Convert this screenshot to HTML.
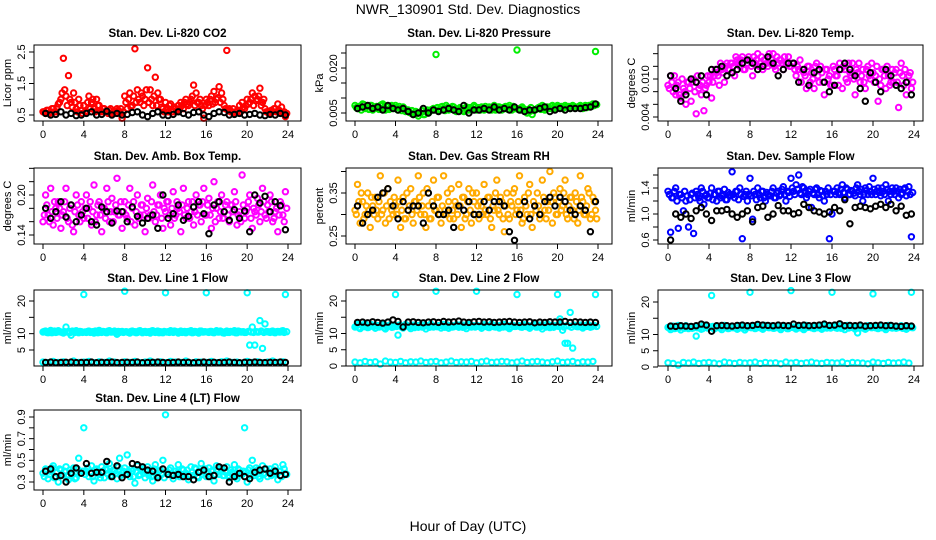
<!DOCTYPE html>
<html><head><meta charset="utf-8"><title>NWR_130901 Std. Dev. Diagnostics</title>
<style>
html,body{margin:0;padding:0;background:#fff;}
svg{display:block;font-family:"Liberation Sans",Arial,sans-serif;}
</style></head>
<body>
<svg id="chart" width="936" height="540" viewBox="0 0 936 540" xmlns="http://www.w3.org/2000/svg">
<rect x="0" y="0" width="936" height="540" fill="#fff"/>
<text x="468" y="14" text-anchor="middle" font-size="14">NWR_130901  Std. Dev. Diagnostics</text>
<text x="468" y="531" text-anchor="middle" font-size="14">Hour of Day (UTC)</text>
</svg>
<script>
// ---- data (colored series every 15 min, second colored series offset 7.5 min, black every 30 min) ----
const xTicks = [0,4,8,12,16,20,24];
const xTickLabels = ["0","4","8","12","16","20","24"];
const titles = ["Stan. Dev. Li-820 CO2","Stan. Dev. Li-820 Pressure","Stan. Dev. Li-820 Temp.","Stan. Dev. Amb. Box Temp.","Stan. Dev. Gas Stream RH","Stan. Dev. Sample Flow","Stan. Dev. Line 1 Flow","Stan. Dev. Line 2 Flow","Stan. Dev. Line 3 Flow","Stan. Dev. Line 4 (LT) Flow"];
const yTitles = ["Licor ppm","kPa","degrees C","degrees C","percent","ml/min","ml/min","ml/min","ml/min","ml/min"];

const co2Red = [0.6,0.55,0.65,0.6,0.7,0.6,0.85,1.0, 2.3,1.1,1.75,0.9,1.2,0.7,1.0,0.65, 0.8,0.6,1.1,0.9,0.7,1.0,0.8,0.6, 0.7,0.6,0.65,0.55,0.6,0.7,0.6,0.4, 1.1,0.7,1.2,0.8,2.6,1.3,0.9,1.1, 1.0,2.0,1.3,0.8,1.7,1.2,1.0,0.7, 0.9,0.6,0.85,0.6,0.7,0.8,0.9,0.7, 1.0,0.8,1.0,1.45,1.2,0.9,0.8,0.4, 1.0,0.8,1.1,1.25,1.0,1.4,1.2,0.8, 2.55,0.7,0.6,0.55,0.6,0.8,0.9,0.7, 1.0,0.9,1.2,1.1,1.0,1.35,0.9,0.7, 0.6,0.55,0.6,0.7,0.85,0.6,0.55,0.45];
const co2Red2 = [0.6,0.65,0.55,0.7,0.6,0.75,0.9,1.2, 1.3,0.8,1.0,0.75,0.9,0.6,0.8,0.55, 0.6,0.9,0.7,1.0,0.6,0.8,0.65,0.7, 0.6,0.55,0.7,0.6,0.55,0.65,0.7,0.6, 0.9,1.0,0.75,1.1,0.9,1.0,1.2,0.8, 1.3,0.9,1.0,1.1,0.8,1.0,0.75,0.6, 0.7,0.8,0.6,0.75,0.65,0.7,0.8,0.9, 0.85,0.9,1.1,0.8,0.9,1.0,0.7,0.8, 0.9,1.0,0.85,0.9,1.05,0.9,1.0,0.7, 0.65,0.6,0.7,0.6,0.65,0.6,0.75,0.8, 0.85,1.0,0.8,0.95,1.1,0.8,1.0,0.6, 0.55,0.65,0.7,0.6,0.65,0.75,0.6,0.55];
const co2Black = [0.55,0.5,0.52,0.6,0.5,0.55,0.48,0.5,0.55,0.6,0.5,0.52,0.62,0.5,0.55,0.5,0.52,0.58,0.6,0.5,0.45,0.55,0.6,0.5,0.48,0.52,0.6,0.55,0.5,0.58,0.6,0.5,0.45,0.55,0.6,0.58,0.5,0.52,0.55,0.5,0.52,0.55,0.5,0.48,0.52,0.5,0.55,0.5];

const presGreen = [.0075,.0065,.007,.008,.0065,.007,.0075,.006, .007,.0065,.0075,.008,.006,.007,.0065,.007, .0075,.006,.0065,.007,.0055,.006,.005,.0045, .0055,.004,.005,.0045,.0055,.005,.006,.0065, .0245,.006,.007,.0065,.0075,.006,.0065,.007, .0055,.006,.0065,.0055,.007,.006,.0065,.0075, .006,.0065,.007,.006,.0065,.007,.006,.0075, .0065,.007,.006,.0065,.007,.0075,.006,.0065, .026,.0065,.007,.006,.005,.0055,.0045,.006, .0065,.007,.0075,.006,.007,.0065,.0075,.007, .0075,.007,.0065,.0075,.007,.0065,.0075,.007, .007,.0075,.0065,.0075,.007,.0075,.008,.0255];
const presGreen2 = [.0068,.0072,.006,.0078,.007,.0062,.0075,.0068, .0072,.0062,.0078,.0068,.0072,.0062,.0075,.0065, .0068,.0072,.0058,.0065,.006,.0052,.0058,.005, .0048,.0052,.0058,.0045,.006,.0055,.0062,.006, .0068,.0062,.0072,.0058,.0068,.0062,.0072,.0058, .0062,.0068,.0058,.0065,.006,.0068,.0062,.007, .0068,.006,.0065,.0072,.0062,.0068,.0065,.006, .007,.0062,.0068,.0072,.0062,.0068,.0072,.0065, .0062,.006,.0065,.0058,.0062,.0068,.0058,.0062, .0068,.0062,.007,.0065,.0068,.0072,.0065,.0068, .007,.0072,.0068,.007,.0072,.0068,.0072,.0068, .0072,.007,.0072,.0068,.0075,.0072,.0075,.0078];
const presBlack = [.0065,.007,.0075,.0065,.007,.006,.0075,.0065,.006,.0065,.0055,.0045,.005,.0065,.005,.006,.0055,.006,.0065,.006,.0055,.0075,.005,.006,.006,.0065,.006,.007,.006,.0065,.006,.007,.006,.0055,.006,.006,.0065,.007,.0055,.006,.0065,.006,.0065,.0065,.0065,.0068,.007,.008];

const tempMag = [.009,.0105,.008,.0075,.0095,.007,.0085,.006, .0095,.0065,.01,.0045,.0085,.0075,.005,.009, .0095,.007,.0105,.011,.009,.0115,.0095,.0125, .0115,.0125,.0105,.013,.012,.0135,.0115,.0125, .013,.0105,.0125,.014,.0125,.0115,.013,.012, .0125,.014,.0115,.0125,.013,.0115,.0125,.0135, .012,.0125,.0105,.0115,.0095,.011,.0085,.012, .011,.0085,.0125,.0095,.011,.0075,.0115,.0105, .009,.0115,.0105,.0125,.0085,.0115,.0095,.011, .0125,.0075,.011,.0095,.0115,.0085,.012,.01, .011,.0105,.0065,.009,.0115,.0085,.0105,.0095, .0095,.0115,.0055,.0125,.009,.0075,.0105,.0085];
const tempMag2 = [.0085,.0095,.0105,.009,.0075,.01,.008,.0095, .0085,.0095,.008,.0105,.009,.0095,.0085,.0105, .0105,.0095,.0115,.0105,.0125,.011,.012,.0115, .0125,.012,.0135,.0125,.013,.0115,.013,.0135, .012,.0135,.013,.012,.0135,.013,.0125,.014, .013,.012,.0135,.013,.0125,.0135,.0125,.012, .0125,.0115,.012,.013,.0115,.0105,.012,.0095, .01,.012,.0105,.012,.0095,.0115,.01,.009, .012,.0105,.009,.0115,.012,.01,.0125,.0105, .01,.0115,.0125,.0105,.0095,.0115,.0105,.0125, .0095,.012,.01,.0115,.0105,.012,.009,.0115, .011,.0095,.011,.0105,.0115,.0095,.011,.0095];
const tempBlack = [.0105,.0085,.0065,.0075,.01,.0095,.0105,.0075,.0115,.0115,.012,.0105,.011,.0115,.0125,.013,.0125,.0115,.012,.0135,.0125,.0105,.0115,.0125,.0125,.0095,.0115,.009,.011,.0115,.0095,.008,.009,.0115,.0125,.0115,.0105,.0085,.0065,.011,.0095,.008,.0115,.0105,.009,.0085,.0095,.0075];

const boxMag = [.16,.2,.17,.21,.155,.18,.19,.15, .175,.21,.16,.185,.145,.2,.17,.19, .165,.2,.18,.155,.215,.17,.19,.145, .18,.21,.16,.195,.175,.225,.17,.15, .19,.165,.21,.18,.155,.2,.17,.185, .145,.195,.17,.215,.16,.185,.2,.15, .175,.19,.155,.205,.17,.18,.145,.21, .165,.19,.175,.155,.2,.185,.16,.21, .17,.195,.15,.22,.18,.165,.2,.175, .19,.16,.185,.205,.155,.175,.23,.165, .18,.2,.15,.175,.195,.16,.21,.17, .185,.2,.16,.175,.145,.19,.17,.205];
const boxMag2 = [.17,.185,.16,.175,.19,.165,.18,.17, .19,.165,.18,.155,.175,.185,.16,.175, .18,.165,.19,.175,.16,.185,.17,.18, .165,.19,.175,.16,.185,.17,.19,.175, .17,.185,.16,.19,.175,.165,.185,.17, .18,.165,.19,.175,.17,.185,.165,.18, .19,.17,.18,.165,.19,.175,.185,.17, .18,.165,.19,.175,.17,.185,.19,.17, .185,.17,.18,.16,.19,.175,.165,.185, .17,.185,.175,.19,.17,.16,.185,.175, .19,.165,.18,.17,.185,.175,.19,.165, .175,.19,.165,.18,.17,.185,.16,.18];
const boxBlack = [.18,.165,.175,.19,.167,.185,.16,.17,.18,.16,.155,.182,.175,.158,.176,.175,.16,.182,.168,.158,.165,.17,.15,.2,.165,.172,.185,.162,.168,.182,.19,.172,.142,.185,.19,.175,.162,.178,.165,.176,.145,.2,.188,.198,.175,.19,.184,.148];

const rhOrange = [.31,.37,.28,.33,.3,.35,.27,.32, .34,.29,.39,.31,.28,.36,.33,.3, .32,.38,.27,.34,.29,.31,.36,.28, .33,.39,.3,.35,.27,.32,.29,.38, .31,.34,.28,.39,.3,.33,.36,.29, .32,.37,.27,.34,.3,.36,.28,.33, .35,.29,.32,.37,.3,.34,.27,.31, .38,.3,.33,.26,.35,.29,.32,.36, .31,.39,.28,.34,.3,.37,.27,.32, .35,.29,.38,.31,.33,.4,.28,.34, .3,.36,.32,.38,.29,.34,.31,.35, .28,.39,.33,.3,.36,.29,.34,.31];
const rhOrange2 = [.3,.33,.35,.29,.32,.31,.34,.3, .31,.33,.3,.35,.32,.29,.31,.34, .3,.33,.31,.29,.35,.32,.3,.33, .31,.34,.32,.3,.36,.29,.33,.31, .34,.3,.32,.31,.35,.29,.31,.33, .3,.32,.34,.29,.33,.31,.35,.3, .32,.33,.3,.31,.34,.29,.32,.35, .31,.34,.29,.32,.3,.33,.35,.3, .33,.31,.29,.32,.35,.3,.33,.31, .32,.3,.34,.29,.31,.33,.35,.3, .33,.31,.35,.3,.32,.34,.29,.33, .31,.34,.3,.32,.35,.3,.33,.29];
const rhBlack = [.32,.28,.3,.31,.34,.35,.36,.32,.29,.33,.31,.32,.32,.28,.35,.32,.3,.3,.31,.27,.32,.31,.33,.3,.3,.33,.31,.33,.33,.32,.26,.24,.3,.33,.29,.32,.3,.33,.34,.32,.34,.33,.31,.3,.32,.31,.26,.33];

const flowBlue = [1.35,0.72,1.25,1.4,0.78,1.3,1.05,1.2, 0.8,1.3,0.7,1.35,1.25,1.4,1.15,1.3, 1.25,1.4,1.3,1.2,1.35,1.28,1.38,1.22, 1.3,1.65,1.25,1.35,1.4,0.62,1.3,1.2, 1.55,0.92,1.3,1.4,1.25,1.35,1.2,1.3, 1.28,1.4,1.25,1.35,1.3,1.42,1.2,1.33, 1.55,1.35,1.45,1.6,1.3,1.4,1.25,1.35, 1.1,1.3,1.4,1.25,1.35,1.2,1.3,0.62, 1.0,1.35,1.4,1.3,1.45,1.25,1.38,1.3, 1.35,1.28,1.45,1.3,1.2,1.4,1.3,1.35, 1.55,1.3,1.4,1.28,1.35,1.45,1.2,1.3, 1.35,1.4,1.25,1.3,1.38,1.28,1.42,0.65];
const flowBlue2 = [1.3,1.25,1.35,1.2,1.3,1.25,1.35,1.28, 1.22,1.32,1.25,1.3,1.2,1.35,1.28,1.25, 1.32,1.22,1.3,1.35,1.25,1.3,1.22,1.33, 1.28,1.3,1.35,1.22,1.3,1.27,1.35,1.3, 1.28,1.35,1.22,1.3,1.35,1.25,1.33,1.28, 1.35,1.25,1.32,1.28,1.38,1.3,1.35,1.27, 1.4,1.3,1.38,1.32,1.42,1.35,1.3,1.38, 1.32,1.38,1.3,1.36,1.28,1.35,1.4,1.3, 1.35,1.3,1.32,1.38,1.33,1.4,1.3,1.36, 1.32,1.4,1.35,1.38,1.3,1.36,1.42,1.3, 1.38,1.35,1.33,1.4,1.3,1.38,1.35,1.4, 1.3,1.35,1.38,1.32,1.4,1.35,1.3,1.33];
const flowBlack = [0.6,1.0,0.95,1.0,0.93,1.05,1.1,1.0,0.9,1.05,1.05,1.07,1.0,0.95,1.0,1.05,0.88,1.1,1.12,0.95,1.0,1.13,1.05,1.05,1.0,1.02,1.15,1.1,1.05,1.03,1.0,1.03,1.1,1.05,1.22,0.85,1.1,1.12,1.1,1.08,1.12,1.15,1.1,1.15,1.05,1.12,0.98,1.0];

const line1High = [10.5,10.8,10.3,11,10.6,10.4,10.9,10.5, 10.2,12,10.7,9.5,10.5,10.9,10.3,10.6, 22,10.4,10.8,10.5,10.2,10.7,11,10.4, 10.6,10.3,10.9,10.5,10.8,9.8,10.4,10.7, 23,10.5,10.2,10.8,10.6,10.4,10.9,10.3, 10.7,10.5,10.2,10.9,10.4,10.8,10.6,10.3, 22.5,10.6,10.9,10.4,10.7,10.2,10.8,10.5, 10.3,10.7,10.9,10.4,10.6,10.2,10.8,10.5, 22.5,10.4,10.7,10.3,10.9,10.5,10.6,10.2, 10.8,10.4,10.6,10.9,10.3,10.7,10.5,10.4, 22.5,6.5,12,6.5,10.5,14,5.5,13, 10.6,10.4,10.8,10.3,10.7,10.5,10.9,22];
const line1High2 = [10.7,10.4,10.6,10.3,10.8,10.5,10.6,10.4, 10.6,10.5,10.3,10.8,10.4,10.6,10.7,10.4, 10.5,10.7,10.4,10.6,10.8,10.3,10.5,10.7, 10.4,10.8,10.5,10.6,10.3,10.7,10.6,10.4, 10.6,10.4,10.7,10.5,10.3,10.8,10.5,10.6, 10.4,10.6,10.8,10.5,10.7,10.3,10.4,10.7, 10.5,10.4,10.6,10.8,10.5,10.6,10.4,10.7, 10.6,10.5,10.3,10.7,10.4,10.8,10.5,10.6, 10.5,10.7,10.4,10.6,10.5,10.8,10.3,10.6, 10.4,10.7,10.5,10.3,10.8,10.5,10.6,10.4, 10.7,10.5,10.4,10.6,10.5,10.8,10.4,10.6, 10.5,10.7,10.4,10.6,10.5,10.8,10.4,10.6];
const line1Low = [1.3,1.1,1.5,1.2,1.4,1.0,1.6,1.2,1.3,1.5,1.1,1.4,1.2,1.6,1.3,1.0,1.4,1.2,1.5,1.1,1.3,1.6,1.2,1.4,1.1,1.5,1.3,1.2,1.6,1.0,1.4,1.3,1.2,1.5,1.1,1.4,1.6,1.2,1.3,1.0,1.5,1.2,1.4,1.1,1.3,1.6,1.2,1.4];
const line1Black = [1.2,1.3,1.1,1.2,1.25,1.3,1.15,1.2,1.2,1.3,1.1,1.25,1.2,1.3,1.15,1.2,1.25,1.2,1.3,1.1,1.2,1.25,1.3,1.2,1.15,1.2,1.3,1.2,1.25,1.1,1.2,1.3,1.2,1.25,1.15,1.2,1.3,1.2,1.1,1.25,1.2,1.3,1.2,1.15,1.25,1.2,1.3,1.2];

const line2High = [12,12.8,11.5,12.4,13,11.8,12.2,12.6, 11.6,12.5,12.1,12.9,11.4,12.3,12.7,12, 22,9.5,12.4,11.7,12.8,12.2,11.5,12.6, 12.3,11.9,12.7,12.1,11.4,12.5,12.9,12, 23,12.4,11.7,12.8,12.2,11.6,12.5,12.1, 12.7,11.9,12.3,12.6,11.5,12.8,12,12.4, 23,12.2,11.6,12.7,12.4,11.8,12.9,12.1, 12.5,11.7,12.3,12.8,12,11.5,12.6,12.2, 22,12.4,11.9,12.7,12.1,11.6,12.5,12.8, 12,12.6,11.4,12.3,12.9,11.8,12.2,12.5, 22,14.5,11,7,7,16.5,5.5,12.3, 12.1,12.6,11.7,12.4,12.8,11.9,12.3,22];
const line2High2 = [12.3,11.8,12.6,12.1,12.4,11.9,12.7,12.2, 12.4,12,12.6,11.8,12.3,12.5,11.9,12.4, 12.2,12.6,11.9,12.3,12.5,12,12.4,11.8, 12.5,12.2,12,12.6,12.3,11.9,12.4,12.2, 12.1,12.5,12.3,11.9,12.6,12.2,12,12.4, 12.3,12.6,11.9,12.2,12.5,12.1,12.4,12, 12.4,12.1,12.5,12.2,11.9,12.6,12.3,12, 12.2,12.5,12,12.4,12.3,11.9,12.5,12.2, 12.3,12,12.6,12.2,12.4,12.1,12.5,12, 12.4,12.2,12.6,12,12.3,12.5,11.9,12.3, 12.2,12.5,12,12.4,12.3,11.9,12.6,12.2, 12.3,12,12.5,12.2,12.4,12.1,12.5,12.2];
const line2Low = [1.2,1.0,1.4,1.1,1.3,0.6,1.5,1.2,1.1,1.4,1.0,1.3,1.2,1.5,1.1,1.3,1.4,1.0,1.2,1.5,1.1,1.3,1.2,1.4,1.0,1.3,1.5,1.1,1.2,1.4,1.3,1.0,1.2,1.5,1.1,1.3,1.4,1.2,1.0,1.3,1.5,1.1,1.2,1.4,1.0,1.3,1.2,1.4];
const line2Black = [13.4,13.5,13.3,13.6,13.4,13.2,13.5,14.2,13.7,12,13.5,13.6,13.4,13.3,13.5,13.6,13.4,13.7,13.5,13.6,13.8,13.5,13.4,13.6,13.7,13.5,13.6,13.4,13.5,13.6,13.7,13.5,13.4,13.5,13.6,13.3,13.5,13.4,13.6,13.5,13.5,13.7,13.4,13.6,13.5,13.4,13.5,13.4];

const line3High = [12.2,11.5,12.6,11.9,12.8,11.4,12.3,12.7, 11.8,12.4,12.1,9.5,12.5,11.6,12.9,12.2, 12.4,22,11.7,12.6,12.1,11.5,12.8,12.3, 11.9,12.5,12.2,11.6,12.7,12,11.4,12.6, 23,12.3,11.8,12.5,12.1,11.6,12.8,12.2, 12.6,11.9,12.4,12.1,11.5,12.7,12.2,11.8, 23.5,12.3,11.7,12.6,12,11.5,12.8,12.4, 12.1,11.8,12.5,12.2,11.6,12.7,12,12.4, 23,12.3,11.9,12.6,12.1,11.5,12.8,12.2, 12.4,11.7,10.5,12.5,12,11.6,12.7,12.3, 22.5,12.1,11.8,12.6,12.3,11.5,12.8,12.2, 12.5,11.9,12.3,12.7,12,11.6,12.4,23];
const line3High2 = [12,12.4,11.8,12.3,12.1,12.5,11.9,12.2, 12.3,11.9,12.4,12.1,12.2,11.8,12.4,12, 12.2,12.5,11.9,12.3,12,12.4,12.1,11.8, 12.4,12.1,12.3,11.9,12.2,12.5,12,12.3, 12.1,12.4,12,12.3,11.9,12.2,12.5,12.1, 12.3,11.9,12.4,12.2,12,12.3,11.8,12.4, 12.2,12,12.4,12.1,12.3,11.9,12.2,12.5, 12,12.3,12.1,12.4,11.9,12.2,12.3,12, 12.4,12.1,12.2,11.9,12.3,12.5,12,12.2, 12.1,12.4,12,12.3,12.2,11.9,12.4,12.1, 12.3,12,12.4,12.1,11.9,12.3,12.2,12, 12.4,12.1,12.2,11.9,12.3,12,12.2,12.1];
const line3Low = [1.3,1.1,0.6,1.4,1.2,1.5,1.1,1.3,1.4,1.2,1.0,1.5,1.3,1.1,1.4,1.2,1.3,1.5,1.1,1.4,1.2,1.3,1.0,1.5,1.2,1.4,1.1,1.3,1.5,1.2,1.1,1.4,1.3,1.2,1.5,1.1,1.4,1.3,1.2,1.0,1.5,1.3,1.1,1.4,1.2,1.3,1.5,1.2];
const line3Black = [12.6,12.5,12.7,12.6,12.5,12.7,13.2,12.9,11,12.7,12.8,12.7,12.6,12.8,12.9,12.7,12.8,13.1,12.9,12.8,12.7,12.9,12.8,12.7,13.2,12.8,12.9,12.7,12.8,12.9,13.2,12.8,12.9,13.3,12.7,12.8,12.7,12.9,12.6,12.7,12.8,12.9,12.7,12.8,12.6,12.5,12.7,12.6];

const line4Cyan = [.38,.42,.33,.4,.45,.35,.3,.41, .36,.44,.32,.39,.43,.34,.52,.38, .8,.4,.35,.45,.31,.42,.37,.44, .34,.41,.47,.36,.4,.33,.52,.38, .43,.55,.35,.4,.29,.45,.37,.42, .34,.44,.38,.31,.46,.36,.41,.5, .92,.37,.43,.33,.4,.46,.35,.41, .38,.32,.44,.36,.42,.34,.47,.39, .35,.43,.4,.31,.45,.37,.42,.36, .44,.34,.39,.46,.33,.41,.37,.8, .3,.43,.5,.36,.41,.33,.45,.38, .35,.42,.37,.44,.32,.4,.46,.38];
const line4Cyan2 = [.35,.4,.37,.43,.34,.39,.42,.36, .4,.35,.41,.37,.33,.42,.38,.4, .37,.43,.39,.35,.41,.38,.34,.4, .42,.37,.35,.41,.38,.44,.36,.4, .37,.4,.42,.35,.39,.36,.41,.38, .4,.36,.35,.42,.38,.4,.37,.34, .39,.41,.36,.4,.38,.35,.42,.37, .41,.36,.39,.43,.35,.4,.37,.42, .38,.35,.41,.37,.4,.43,.36,.39, .36,.41,.38,.35,.42,.37,.4,.39, .41,.36,.38,.43,.35,.4,.37,.42, .39,.36,.41,.38,.4,.35,.42,.37];
const line4Black = [.4,.42,.35,.36,.3,.38,.43,.38,.47,.38,.39,.39,.49,.35,.45,.34,.37,.47,.46,.44,.41,.4,.34,.42,.37,.36,.37,.35,.35,.32,.39,.41,.35,.36,.44,.43,.3,.35,.38,.35,.33,.39,.41,.42,.38,.4,.36,.37];

const yTickVals = [[0.5,1,1.5,2,2.5],[0.005,0.01,0.015,0.02,0.025],[0.004,0.006,0.008,0.01,0.012,0.014],[0.14,0.16,0.18,0.2,0.22,0.24],[0.25,0.3,0.35,0.4],[0.6,0.8,1.0,1.2,1.4,1.6],[5,10,15,20],[0,5,10,15,20],[0,5,10,15,20],[0.3,0.4,0.5,0.6,0.7,0.8,0.9]];
const yTickLabels = [["0.5","","1.5","","2.5"],["0.005","","","0.020",""],["0.004","","","0.010","",""],["0.14","","","0.20","",""],["0.25","","0.35",""],["0.6","","1.0","","1.4",""],["5","10","","20"],["0","5","10","","20"],["0","5","10","","20"],["0.3","","0.5","","0.7","","0.9"]];

// ---- layout (not data) ----
const colGeo = [{L:34,R:301,x0:43,x24:288},{L:346,R:612,x0:355,x24:598},{L:658,R:923,x0:668,x24:914}];
const rowGeo = [{T:45,B:121},{T:168,B:244},{T:290,B:366},{T:410,B:490}];
const yCal = [[0.5,115,2.5,52],[0.005,113,0.02,68],[0.004,117,0.01,79],[0.14,235,0.2,195],[0.25,236,0.35,193],[0.6,240,1.4,188],[5,350,20,301],[0,366,20,301],[0,367,20,302],[0.3,482,0.9,417]];

const series = [
 [[co2Red,"#ff0000",0.25,0],[co2Red2,"#ff0000",0.25,0.125],[co2Black,"#000",0.5,0.25]],
 [[presGreen,"#00ee00",0.25,0],[presGreen2,"#00ee00",0.25,0.125],[presBlack,"#000",0.5,0.25]],
 [[tempMag,"#ff00ff",0.25,0],[tempMag2,"#ff00ff",0.25,0.125],[tempBlack,"#000",0.5,0.25]],
 [[boxMag,"#ff00ff",0.25,0],[boxMag2,"#ff00ff",0.25,0.125],[boxBlack,"#000",0.5,0.25]],
 [[rhOrange,"#ffaa00",0.25,0],[rhOrange2,"#ffaa00",0.25,0.125],[rhBlack,"#000",0.5,0.25]],
 [[flowBlue,"#0000ff",0.25,0],[flowBlue2,"#0000ff",0.25,0.125],[flowBlack,"#000",0.5,0.25]],
 [[line1High,"#00ffff",0.25,0],[line1High2,"#00ffff",0.25,0.125],[line1Low,"#00ffff",0.5,0],[line1Black,"#000",0.5,0.25]],
 [[line2High,"#00ffff",0.25,0],[line2High2,"#00ffff",0.25,0.125],[line2Low,"#00ffff",0.5,0],[line2Black,"#000",0.5,0.25]],
 [[line3High,"#00ffff",0.25,0],[line3High2,"#00ffff",0.25,0.125],[line3Low,"#00ffff",0.5,0],[line3Black,"#000",0.5,0.25]],
 [[line4Cyan,"#00ffff",0.25,0],[line4Cyan2,"#00ffff",0.25,0.125],[line4Black,"#000",0.5,0.25]]
];

const NS = "http://www.w3.org/2000/svg";
const svg = document.getElementById("chart");
function mk(tag, attrs, parent){
  const e = document.createElementNS(NS, tag);
  for (const k in attrs) e.setAttribute(k, attrs[k]);
  parent.appendChild(e);
  return e;
}

for (let p = 0; p < 10; p++) {
  const c = colGeo[p % 3], r = rowGeo[Math.floor(p / 3)], cal = yCal[p];
  const xs = h => c.x0 + (c.x24 - c.x0) * h / 24;
  const ys = v => cal[1] + (v - cal[0]) * (cal[3] - cal[1]) / (cal[2] - cal[0]);
  const g = mk("g", {}, svg);
  
  

  const t = mk("text", {x:(c.L + c.R) / 2, y:r.T - 8, "text-anchor":"middle", "font-size":"11.5", "font-weight":"bold"}, g);
  t.textContent = titles[p];
  
  

  const pg = mk("g", {fill:"none", "stroke-width":"2"}, g);
  
  
  series[p].forEach(s => {
    const [vals, col, step, off] = s;
    vals.forEach((v, i) => {
      const pt = mk("circle", {cx:xs(off + i * step).toFixed(1), cy:ys(v).toFixed(1), r:"2.7", stroke:col}, pg);
      
      
    });
  });

  const box = mk("rect", {x:c.L, y:r.T, width:c.R - c.L, height:r.B - r.T, fill:"none", stroke:"#000", "stroke-width":"1"}, g);
  
  

  const xa = mk("g", {stroke:"#000", "font-size":"11"}, g);
  
  
  xTicks.forEach((h, i) => {
    mk("line", {x1:xs(h), x2:xs(h), y1:r.B, y2:r.B + 5}, xa);
    const tl = mk("text", {x:xs(h), y:r.B + 17, "text-anchor":"middle", stroke:"none", fill:"#000"}, xa);
    tl.textContent = xTickLabels[i];
    
    
  });

  const ya = mk("g", {stroke:"#000", "font-size":"11"}, g);
  
  
  yTickVals[p].forEach((v, i) => {
    const yy = ys(v);
    mk("line", {x1:c.L - 5, x2:c.L, y1:yy, y2:yy}, ya);
    if (yTickLabels[p][i]) {
      const tl = mk("text", {x:0, y:0, transform:"translate(" + (c.L - 9) + "," + yy + ") rotate(-90)", "text-anchor":"middle", stroke:"none", fill:"#000"}, ya);
      tl.textContent = yTickLabels[p][i];
      
      
    }
  });
  const yt = mk("text", {x:0, y:0, transform:"translate(" + (c.L - 23) + "," + ((r.T + r.B) / 2) + ") rotate(-90)", "text-anchor":"middle", "font-size":"11"}, g);
  yt.textContent = yTitles[p];
  
  
}
</script>
</body></html>
